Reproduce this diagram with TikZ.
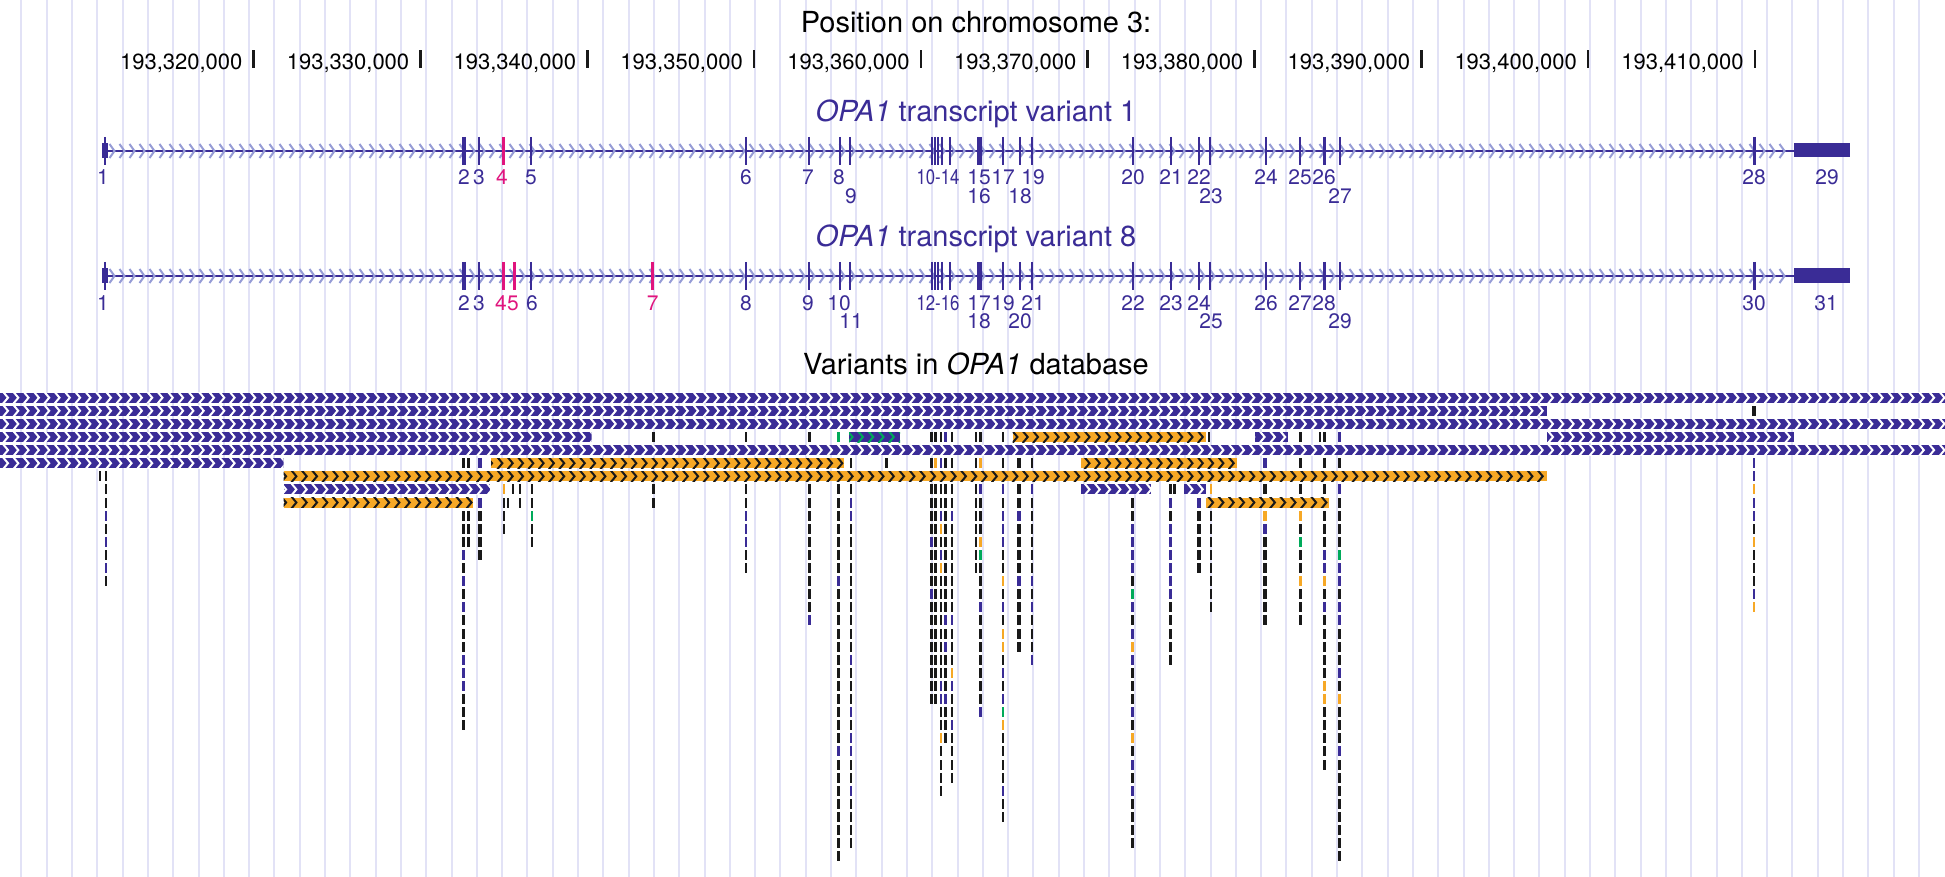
\documentclass[tikz,border=0pt]{standalone}
\usepackage{fontspec}
\setmainfont{TeX Gyre Heros}
\usepackage{graphicx}

\definecolor{vpurple}{RGB}{58,44,150}
\definecolor{vorange}{RGB}{246,168,38}
\definecolor{vgreen}{RGB}{0,170,90}
\definecolor{vpink}{RGB}{224,20,125}
\definecolor{vgrid}{RGB}{226,226,246}
\definecolor{vintron}{RGB}{150,156,214}
\definecolor{vblack}{RGB}{25,25,25}

\begin{document}
\begin{tikzpicture}[
    x=1pt, y=-1pt,
    gridline/.style={draw=vgrid, line width=2pt},
    heading/.style={font=\fontsize{29}{32}\selectfont, inner sep=0pt, anchor=base},
    rulerlabel/.style={font=\fontsize{22}{24}\selectfont, inner sep=0pt, anchor=base east},
    exonlabel/.style={font=\fontsize{21}{23}\selectfont, inner sep=0pt, anchor=base,
        text height=14pt, text depth=0pt, text=vpurple},
    geneline/.style={draw=vpurple, line width=2.5pt},
    intron/.style={draw=vintron, line width=2pt},
    vk/.style={fill=vblack}, vp/.style={fill=vpurple}, vo/.style={fill=vorange},
    vg/.style={fill=vgreen}, vn/.style={fill=none},
]
\useasboundingbox (0,0) rectangle (1945,877);

% Background grid
\foreach \k in {0,...,75}
    \draw[gridline] ({21.4+25.3*\k},0) -- ({21.4+25.3*\k},877);

% Titles
\node[heading] (title) at (976,33) {Position on chromosome 3:};
\node[heading, text=vpurple] (tx1) at (976,122) {\textit{OPA1} transcript variant 1};
\node[heading, text=vpurple] (tx8) at (976,247) {\textit{OPA1} transcript variant 8};
\node[heading] (vars) at (976,374) {Variants in \textit{OPA1} database};

% Ruler
\foreach \n [count=\i from 0] in {320,330,...,410} {
    \fill[vblack] ({252.4+166.8*\i},50) rectangle ++(2.5,18);
    \node[rulerlabel] (pos\n) at ({242.6+166.8*\i},69.5) {193,\n,000};
}

% Transcripts (variant 1, then variant 8 shifted down)
\foreach \yo in {0,125} {
    \draw[geneline] (105,151+\yo) -- (1794,151+\yo);
    \foreach \cx in {112,122,...,1790}
        \draw[intron] (\cx-2.5,144+\yo) -- (\cx+2.5,151+\yo) -- (\cx-2.5,158+\yo);
    \fill[vpurple] (102,143+\yo) rectangle (107.5,158+\yo);
    \fill[vpurple] (1793.6,143+\yo) rectangle (1850,157.5+\yo);
    \foreach \ex/\w in {105/2.5, 464/4, 479/2.5, 531/2.5, 746/2.5, 809/2.5, 840/2.5, 850/2.5,
                        932/2.5, 935/2.5, 938/2.5, 942/2.5, 950/2.5, 978/2.5, 980.5/2.5,
                        1003/2.5, 1020/2.5, 1032/2.5, 1133/2.5, 1171/2.5, 1199/2.5, 1210/2.5,
                        1266/2.5, 1300/2.5, 1324.5/2.5, 1340/2.5, 1754/3}
        \draw[draw=vpurple, line width=\w] (\ex,137+\yo) -- (\ex,165+\yo);
}
% Alternative exons
\draw[draw=vpink, line width=2.5] (503.5,137) -- (503.5,165);
\foreach \ex in {503.5,514.5,652.7}
    \draw[draw=vpink, line width=2.5] (\ex,262) -- (\ex,290);

% Exon numbers, variant 1
\foreach \x/\rw/\t [count=\i] in {103/0/1, 464/0/2, 479/0/3, 531/0/5, 746/0/6, 808/0/7, 839/0/8,
        851/1/9, 938/0/{\scalebox{.8}[1]{10-14}}, 979/0/15, 979/1/16, 1003/0/17, 1020/1/18,
        1033/0/19, 1133/0/20, 1171/0/21, 1199/0/22, 1211/1/23, 1266/0/24, 1300/0/25,
        1324/0/26, 1340/1/27, 1754/0/28, 1827/0/29}
    \node[exonlabel] (ea\i) at (\x,185+18.5*\rw) {\t};
\node[exonlabel, text=vpink] (ea4) at (502,185) {4};

% Exon numbers, variant 8
\foreach \x/\rw/\t [count=\i] in {103/0/1, 464/0/2, 479/0/3, 532/0/6, 746/0/8, 808/0/9, 839/0/10,
        851/1/11, 938/0/{\scalebox{.8}[1]{12-16}}, 979/0/17, 979/1/18, 1003/0/19, 1020/1/20,
        1033/0/21, 1133/0/22, 1171/0/23, 1199/0/24, 1211/1/25, 1266/0/26, 1300/0/27,
        1324/0/28, 1340/1/29, 1754/0/30, 1826/0/31}
    \node[exonlabel] (eb\i) at (\x,310+18.5*\rw) {\t};
\foreach \x/\t in {501/4, 513/5, 652.7/7}
    \node[exonlabel, text=vpink] (eb\t) at (\x,310) {\t};

% Single variants: x / width / first row / colour per row
\foreach \x/\w/\r/\cl in {
        100/2.5/6/{k},
        106/2.5/6/{k,k,k,p,k,p,k,p,k},
        463.5/2.5/5/{k,k,k,k,k,k,k,p,k,p,k,p,k,k,k,p,p,p,k,k,k},
        468.5/2.5/5/{k,k,k,k,k,k,k},
        480/4/5/{p,k,k,p,k,k,k,k},
        504/2.5/7/{o,k,k,k},
        508/2.5/8/{k},
        513/2.5/7/{k},
        520/2.5/7/{k,k},
        532/2.5/7/{k,k,g,k,k},
        653.5/2.5/3/{k,k,k,k,k,k},
        746/2.5/3/{k,k,k,k,k,k,p,p,p,k,k},
        809.5/2.5/3/{k,k,k,k,k,k,k,k,k,k,k,k,k,k,p},
        838.5/2.5/3/{g,k,k,k,k,k,k,k,k,k,k,p,k,k,k,k,k,k,k,k,k,k,k,k,p,k,k,k,k,k,k,k,k},
        851/2.5/5/{k,k,k,p,p,k,k,k,k,k,k,k,k,k,k,p,k,k,k,p,k,p,p,k,k,p,k,k,k,k},
        886.5/2.5/5/{k},
        931.5/2.5/3/{k,k,k,k,k,k,k,k,p,k,k,k,p,k,k,k,k,k,k,k,k},
        935.5/2.5/3/{k,k,o,k,k,k,k,k,k,k,k,k,k,k,k,k,k,k,k,k,k},
        941/2.5/3/{k,k,p,k,k,k,p,o,k,p,o,k,k,k,k,k,k,k,k,p,p,k,k,o,k,k,k,k},
        945.5/2.5/3/{p,k,k,k,k,k,k,k,k,k,k,k,k,k,p,k,p,k,k,k,p,k,k,k},
        952/2.5/3/{k,k,k,k,k,k,p,k,k,k,k,k,k,k,p,k,k,k,o,p,k,k,p,k,k,k,k},
        976/2.5/3/{k,k,k,k,k,k,k,k,k,k,k},
        980.5/2.5/3/{k,k,o,k,p,k,k,k,o,g,k,k,k,p,k,k,k,k,k,k,k,p},
        1003/2.5/3/{k,k,k,k,p,k,p,p,p,k,k,o,k,p,k,o,o,k,p,k,p,g,o,k,k,k,k,p,k,k},
        1019/3.5/5/{k,k,k,k,p,k,k,k,k,p,k,k,k,k,k},
        1032/2.5/5/{k,k,p,k,k,k,k,k,k,p,k,p,k,k,k,p},
        1132.5/2.5/8/{k,k,p,p,p,p,k,g,p,k,p,o,p,k,k,k,p,k,o,k,p,k,p,k,k,k,k},
        1170.5/2.5/7/{k,p,k,p,p,p,p,p,p,k,k,k,k,k},
        1174.5/2.5/7/{k},
        1199/3.5/8/{p,k,k,k,k,k},
        1209/2.5/3/{k},
        1211/2.5/7/{o,k,k,k,k,k,k,k,k,k},
        1265/3.5/5/{p,k,k,k,o,p,k,k,k,k,k,k,k},
        1300.5/2.5/3/{k,k,k,k,k,k,o,k,g,k,k,o,k,k,k},
        1320/2.5/3/{k},
        1324.5/2.5/3/{k,k,k,k,k,k,k,k,k,p,p,o,k,p,k,k,k,k,k,o,o,k,k,k,k,k},
        1339.5/3/3/{p,k,k,k,p,k,k,k,k,g,p,p,k,p,p,k,k,k,p,k,o,k,k,k,p,k,k,k,k,k,k,k,k},
        1754/4/1/{k},
        1754/2.5/5/{p,p,o,p,p,k,o,k,k,k,p,o}} {
    \foreach \c [count=\i from 0] in \cl {
        \pgfmathsetmacro\ty{392.7+13.1*(\r+\i)}
        \fill[v\c] ({\x-\w/2},\ty) rectangle ++(\w,10);
    }
}

% Long variants: row / from / to / fill / chevron colour
\foreach \r/\xa/\xb/\fc/\cc in {
        0/0/1945/vpurple/white, 1/0/1547/vpurple/white, 2/0/1945/vpurple/white,
        3/0/591.5/vpurple/white, 3/849/900/vpurple/vgreen, 3/1012.5/1206/vorange/vblack,
        3/1255/1288/vpurple/white, 3/1547/1794/vpurple/white,
        4/0/1945/vpurple/white,
        5/0/283.5/vpurple/white, 5/491/844/vorange/vblack, 5/1081/1237/vorange/vblack,
        6/283.5/1547/vorange/vblack,
        7/283.5/490/vpurple/white, 7/1081/1151/vpurple/white, 7/1183.5/1206/vpurple/white,
        8/283.5/473/vorange/vblack, 8/1206/1329/vorange/vblack} {
    \pgfmathsetmacro\ty{392.7+13.1*\r}
    \pgfmathsetmacro\cs{10.3*floor(\xa/10.3)+3}
    \pgfmathsetmacro\cn{\cs+10.3}
    \begin{scope}
        \clip (\xa,\ty) rectangle (\xb,\ty+10);
        \fill[\fc] (\xa,\ty) rectangle (\xb,\ty+10);
        \foreach \cx in {\cs,\cn,...,\xb}
            \draw[\cc, line width=2pt] (\cx,\ty-1) -- (\cx+5,\ty+5) -- (\cx,\ty+11);
    \end{scope}
}

\end{tikzpicture}
\end{document}
